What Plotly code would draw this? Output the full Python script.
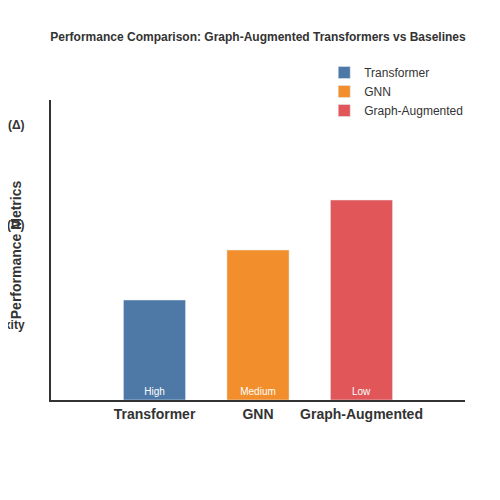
import plotly.graph_objects as go

models = ["Transformer", "GNN", "Graph-Augmented"]
scores = [100, 150, 200]
complexity = ["High", "Medium", "Low"]
colors = ["#4e79a7", "#f28e2b", "#e15759"]
tick_vals = [75, 175, 275]
tick_text = ["Complexity", "Scalability (Ω)", "Accuracy (Δ)"]

fig = go.Figure()
for i, m in enumerate(models):
    fig.add_trace(go.Bar(x=[i], y=[scores[i]], name=m, marker_color=colors[i], width=0.6,
                         text=[complexity[i]], textposition="inside", insidetextanchor="start",
                         textfont=dict(color="white", size=10)))

fig.update_layout(
    width=500, height=500, plot_bgcolor="white", paper_bgcolor="white",
    margin=dict(l=43, r=43, t=92, b=108),
    font=dict(family="Liberation Sans, Arial", color="#333"),
    title=dict(text="<b>Performance Comparison: Graph-Augmented Transformers vs Baselines</b>",
               x=0.5, y=0.95, font=dict(size=12)),
    legend=dict(x=0.66, y=1.14, xanchor="left", yanchor="top", font=dict(size=12),
                itemwidth=30, tracegroupgap=2),
    showlegend=True,
)
fig.update_xaxes(range=[-1, 3], tickvals=[0, 1, 2], ticktext=[f"<b>{m}</b>" for m in models], showline=True,
                 linecolor="#333", linewidth=2, showgrid=False,
                 tickfont=dict(size=14, color="#333", family="Liberation Sans, Arial"))
fig.update_yaxes(range=[0, 300], tickvals=tick_vals, ticktext=[f"<b>{t}</b>" for t in tick_text],
                 automargin=False, showline=True, linecolor="#333", linewidth=2, showgrid=False,
                 ticklabelstandoff=22,
                 title=dict(text="<b>Performance Metrics</b>", font=dict(size=14), standoff=0),
                 tickfont=dict(size=12))
fig.write_html("out.html")
